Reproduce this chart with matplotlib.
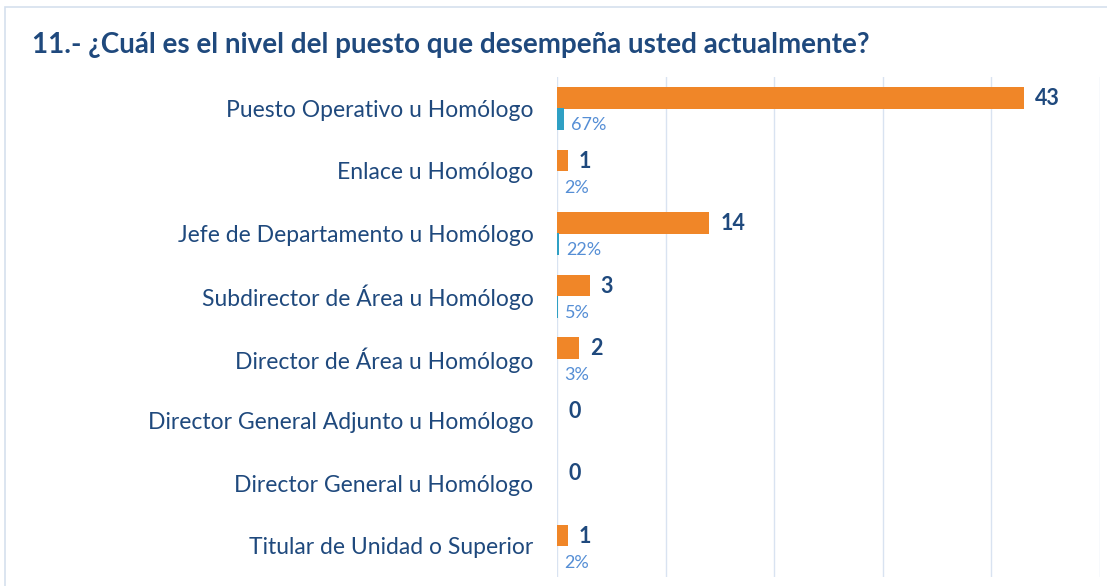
import matplotlib
matplotlib.use("Agg")
import matplotlib.pyplot as plt
import matplotlib.patches as patches
import numpy as np

plt.rcParams['font.family'] = ['Lato', 'DejaVu Sans']

categories = ["Puesto Operativo u Homólogo", "Enlace u Homólogo",
              "Jefe de Departamento u Homólogo", "Subdirector de Área u Homólogo",
              "Director de Área u Homólogo", "Director General Adjunto u Homólogo",
              "Director General u Homólogo", "Titular de Unidad o Superior"]
counts = [43, 1, 14, 3, 2, 0, 0, 1]
percents = [67, 2, 22, 5, 3, 0, 0, 2]

title = "11.- ¿Cuál es el nivel del puesto que desempeña usted actualmente?"

dark = "#1F497D"
pct_col = "#558ED5"
orange = "#F08628"
blue = "#2FA0C4"
grid_col = "#D9E3F1"

fig = plt.figure(figsize=(11.07, 5.86), dpi=100, facecolor="white")
fig.patches.append(patches.Rectangle((5/1107, -0.05), 1.2, 1 - 7/586 + 0.05,
                                     transform=fig.transFigure, fill=False,
                                     edgecolor="#D5E0EE", linewidth=1.2))
fig.text(32/1107, 1 - 45/586, title, fontsize=20, fontweight="bold",
         color=dark, va="center", ha="left")

ax = fig.add_axes([557/1107, 1 - 577/586, 543/1107, 500/586])
y = np.arange(len(categories))
h = 0.35
ax.barh(y - 0.165, counts, height=h, color=orange, zorder=3)
ax.barh(y + 0.175, [p / 100 for p in percents], height=h, color=blue, zorder=3)

for i in range(len(categories)):
    ax.annotate(str(counts[i]), (counts[i], y[i] - 0.15), xytext=(8, 0),
                textcoords="offset points", va="center", ha="left",
                fontsize=15.5, fontweight="bold", color=dark)
    if percents[i] > 0:
        ax.annotate("%d%%" % percents[i], (percents[i] / 100, y[i] + 0.27),
                    xytext=(5, 0), textcoords="offset points", va="center",
                    ha="left", fontsize=13, color=pct_col)

ax.set_xlim(0, 50)
ax.set_ylim(len(categories) - 0.5, -0.5)
ax.set_xticks([0, 10, 20, 30, 40, 50])
ax.set_xticklabels([])
ax.set_yticks(y)
ax.set_yticklabels(categories, fontsize=16.5, color=dark)
ax.tick_params(axis="y", length=0, pad=17)
ax.tick_params(axis="x", length=0)
ax.grid(axis="x", color=grid_col, linewidth=1, zorder=0)
for s in ax.spines.values():
    s.set_visible(False)

fig.savefig("out.png", dpi=100, facecolor="white")
